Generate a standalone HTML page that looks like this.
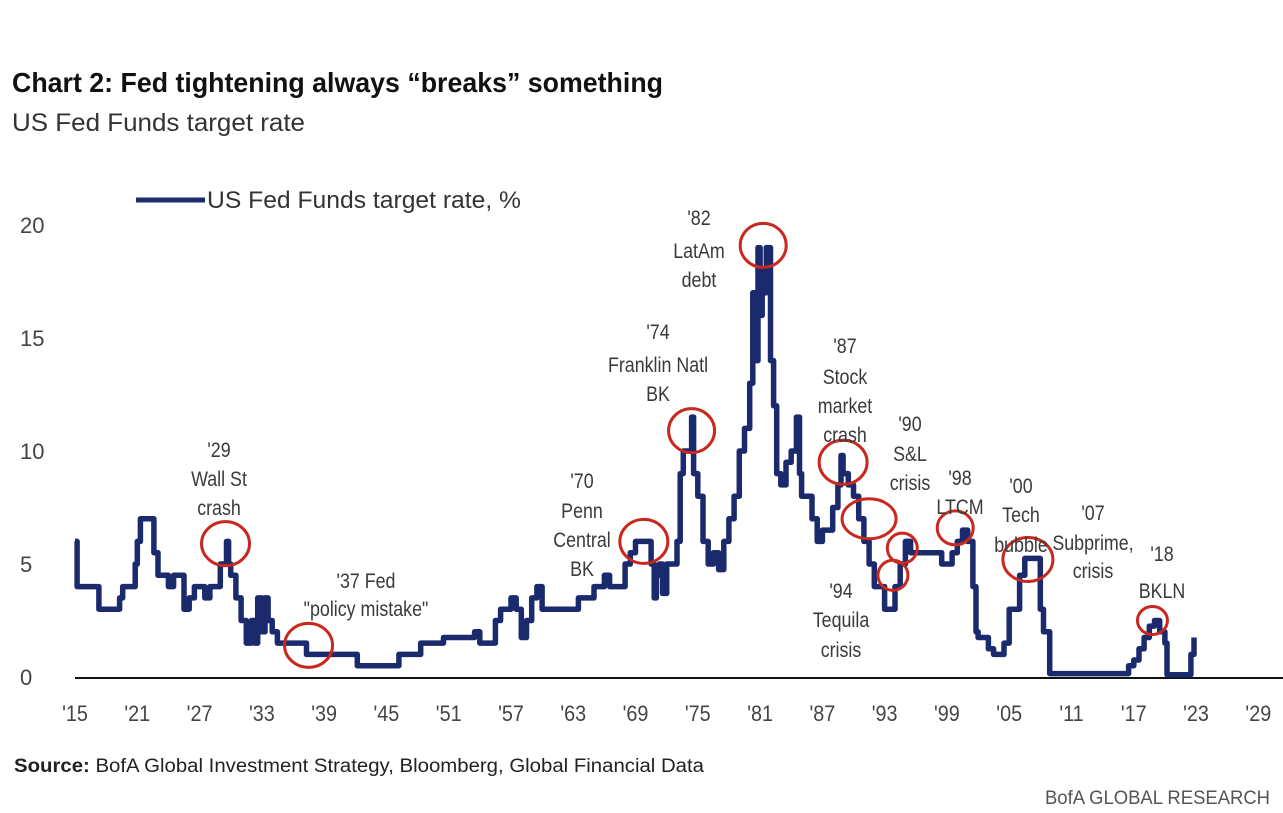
<!DOCTYPE html>
<html><head><meta charset="utf-8"><style>
html,body{margin:0;padding:0;background:#fff;}
svg{display:block;font-family:"Liberation Sans Narrow","Liberation Sans",sans-serif;}
.ann{font-size:21px;fill:#3a3a3a;text-anchor:middle;}
.tick{font-size:22px;fill:#444;}
</style></head><body>
<svg id="chart" width="1283" height="813" viewBox="0 0 1283 813" xmlns="http://www.w3.org/2000/svg">
<text x="12" y="92" font-size="28" font-weight="bold" fill="#111" textLength="651" lengthAdjust="spacingAndGlyphs">Chart 2: Fed tightening always “breaks” something</text>
<text x="12" y="131" font-size="25" fill="#333" textLength="293" lengthAdjust="spacingAndGlyphs">US Fed Funds target rate</text>
<g>
<line x1="136" y1="200" x2="205" y2="200" stroke="#1a2a6c" stroke-width="5"/>
<text x="207" y="208" font-size="24" fill="#333" textLength="314" lengthAdjust="spacingAndGlyphs">US Fed Funds target rate, %</text>
</g>
<g id="yt"></g><g id="xt"></g>
<line x1="75" y1="678" x2="1283" y2="678" stroke="#111" stroke-width="2"/>
<path id="line" fill="none" stroke="#1a2a6c" stroke-width="5.5" stroke-linejoin="round"/>
<g id="ann"></g>
<text x="14" y="772" font-size="19" fill="#222" textLength="690" lengthAdjust="spacingAndGlyphs"><tspan font-weight="bold">Source:</tspan> BofA Global Investment Strategy, Bloomberg, Global Financial Data</text>
<text x="1270" y="804" font-size="19" fill="#555" text-anchor="end" textLength="225" lengthAdjust="spacingAndGlyphs">BofA GLOBAL RESEARCH</text>
</svg>
<script>
const years=[1915,1915.2,1917,1917.3,1919,1919.3,1919.6,1920.5,1920.8,1921,1921.3,1922.3,1922.6,1923,1923.5,1924,1924.5,1925,1925.5,1926,1926.5,1927,1927.5,1928,1928.5,1929,1929.3,1929.6,1929.8,1930,1930.5,1931,1931.5,1932,1932.3,1932.6,1933,1933.3,1933.6,1934,1934.5,1937,1937.3,1942,1942.2,1946,1946.2,1948,1948.3,1950,1950.5,1953,1953.5,1954,1955,1955.5,1956,1957,1957.5,1958,1958.5,1959,1959.5,1960,1963,1963.5,1964.5,1965,1966,1966.5,1967,1968,1968.5,1969,1970,1970.5,1970.8,1971,1971.3,1971.6,1972,1973,1973.3,1973.6,1974,1974.4,1974.6,1975,1975.5,1976,1976.5,1977,1977.5,1978,1978.5,1979,1979.5,1980,1980.3,1980.5,1980.8,1981,1981.2,1981.4,1981.6,1982,1982.3,1982.6,1983,1983.5,1984,1984.5,1984.8,1985,1986,1986.5,1987,1987.5,1988,1988.5,1988.8,1989,1989.5,1990,1990.5,1991,1991.5,1992,1993,1993.5,1994,1994.5,1995,1995.5,1996,1997,1998,1998.5,1999,1999.5,2000,2000.5,2001,2001.5,2001.8,2002,2003,2003.5,2004,2004.5,2005,2006,2006.5,2007.5,2008,2008.3,2008.9,2015.8,2016.5,2017,2017.5,2018,2018.5,2019,2019.5,2020,2020.2,2022.2,2022.5,2022.8];
const rates=[6,4,4,3,3,3.5,4,4,5,6,7,7,5.5,4.5,4.5,4,4.5,4.5,3,3.5,4,4,3.5,4,4,5,5,6,5,4.5,3.5,2.5,1.5,2.5,1.5,3.5,2,3.5,2.5,2,1.5,1.5,1,1,0.5,0.5,1,1,1.5,1.5,1.75,1.75,2,1.5,1.5,2.5,3,3.5,3,1.75,2.5,3.5,4,3,3,3.5,3.5,4,4.5,4,4,5,5.5,6,6,5,3.5,4.5,5,3.7,5,6,9,10,10,11.5,9,8,6,5,5.5,4.75,6,7,8,10,11,13,17,14,19,16,18,17,19,14,12,9,8.5,9.5,10,11.5,9,8,7,6,6.5,6.5,7.5,8.5,9.8,9,8.5,8,7,6,5,4,3,3,4,5,6,5.5,5.5,5.5,5.5,5,5,5.5,6,6.5,6,4,2,1.75,1.25,1,1,1.5,3,4.5,5.25,5.25,3,2,0.15,0.15,0.5,0.75,1.25,1.75,2.25,2.5,2,1.5,0.1,0.1,1,1.75];
const yTicks=[0,5,10,15,20];
const xTickLabels=["'15","'21","'27","'33","'39","'45","'51","'57","'63","'69","'75","'81","'87","'93","'99","'05","'11","'17","'23","'29"];
const xTickYears=[1915,1921,1927,1933,1939,1945,1951,1957,1963,1969,1975,1981,1987,1993,1999,2005,2011,2017,2023,2029];
const annYears=[1929.5,1937.5,1969.8,1974.4,1981.3,1989,1991.5,1994.7,1993.8,1999.8,2006.8,2018.8];
const annRates=[5.9,1.4,6,10.9,19.1,9.5,7,5.7,4.5,6.6,5.2,2.5];
const annRx=[24,24,24,23,23,24,27,15,15,18,25,15];
const annRy=[22,22,22,22,22,22,20,15,15,17,22,14];
const X=y=>75+(y-1915)*10.38, Y=v=>677-v*22.6;
const NS="http://www.w3.org/2000/svg";
function mk(t,p,a){const e=document.createElementNS(NS,t);for(const k in a)e.setAttribute(k,a[k]);p.appendChild(e);return e;}
const yt=document.getElementById('yt');
yTicks.forEach(v=>{const t=mk('text',yt,{x:20,y:Y(v)+8,class:'tick'});t.textContent=v;

});
const xt=document.getElementById('xt');
xTickYears.forEach((yr,i)=>{const t=mk('text',xt,{x:0,y:721,class:'tick','text-anchor':'middle',transform:'translate('+X(yr)+',0) scale(0.9,1)'});t.textContent=xTickLabels[i];

});
let d='';years.forEach((yr,i)=>{const x=X(yr).toFixed(1),y=Y(rates[i]).toFixed(1);
if(i===0)d+='M'+x+' '+y;else d+='H'+x+'V'+y;});
document.getElementById('line').setAttribute('d',d);
const an=document.getElementById('ann');
annYears.forEach((yr,i)=>{const c=mk('ellipse',an,{cx:X(yr),cy:Y(annRates[i]),rx:annRx[i],ry:annRy[i],fill:'none',stroke:'#c8281e','stroke-width':3});

});
const labels=[[219,[["'29",457],["Wall St",486],["crash",515]]],[366,[["'37 Fed",588],["\"policy mistake\"",616]]],[582,[["'70",488],["Penn",518],["Central",547],["BK",576]]],[658,[["'74",339],["Franklin Natl",372],["BK",401]]],[699,[["'82",225],["LatAm",258],["debt",287]]],[845,[["'87",353],["Stock",384],["market",413],["crash",442]]],[910,[["'90",431],["S&L",461],["crisis",490]]],[960,[["'98",485],["LTCM",514]]],[1021,[["'00",493],["Tech",522],["bubble",522]]],[1093,[["'07",520],["Subprime,",550],["crisis",578]]],[841,[["'94",598],["Tequila",627],["crisis",657]]],[1162,[["'18",561],["BKLN",598]]]];
labels[8][1][2][1]=522+30;
labels.forEach(l=>{l[1].forEach(r=>{const t=mk('text',an,{x:0,y:r[1],class:'ann',transform:'translate('+l[0]+',0) scale(0.85,1)'});t.textContent=r[0];

});});
</script>
</body></html>
